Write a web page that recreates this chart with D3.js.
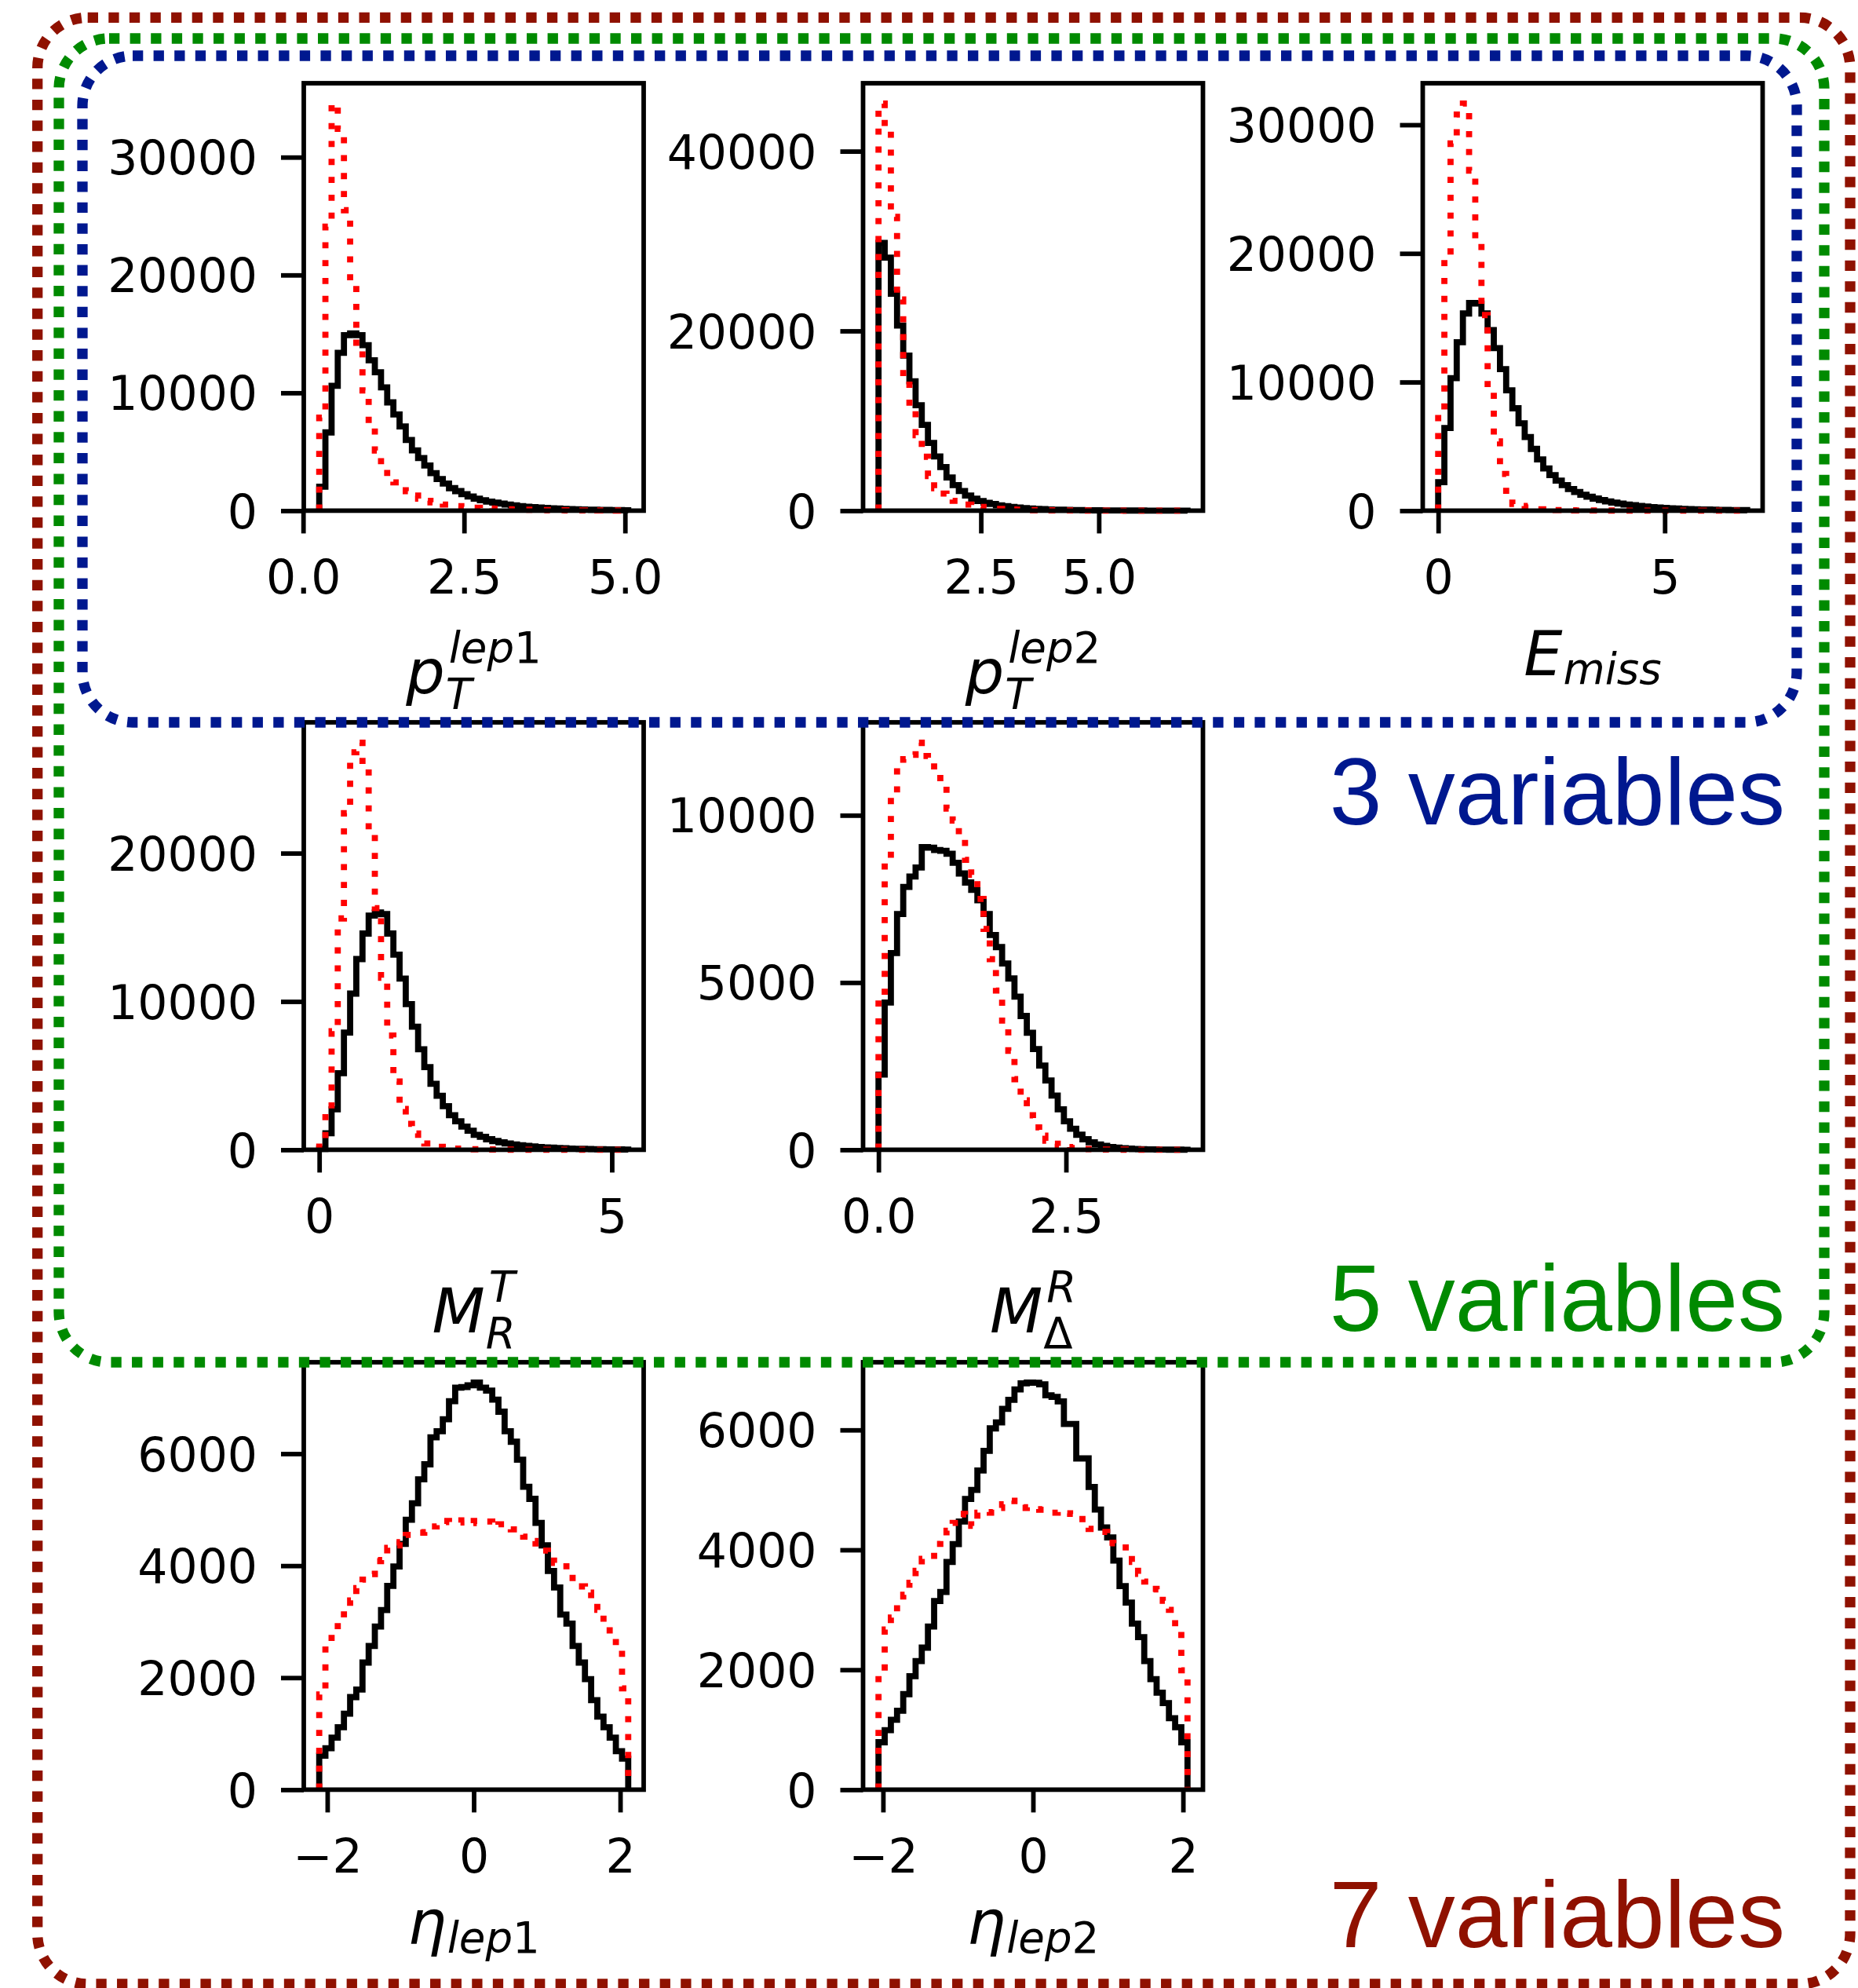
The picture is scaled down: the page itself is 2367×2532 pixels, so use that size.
<!DOCTYPE html>
<html>
<head>
<meta charset="utf-8">
<script src="https://cdn.jsdelivr.net/npm/d3@7"></script>
<style>
  html, body { margin: 0; padding: 0; background: #fff; }
  svg { display: block; }
</style>
</head>
<body>
<svg id="fig" width="2367" height="2532"></svg>
<script>
// ---- Histogram data: 50 equal-width bins per variable over [lo, hi] ----
const ptLep1Range = [0.25, 5.05];
const ptLep1Black = [2040, 6640, 10600, 13400, 14900, 15050, 14900, 14040, 12760, 11740,
  10470, 9190, 8170, 7150, 6000, 5110, 4470, 3830, 3190, 2680,
  2300, 1910, 1660, 1400, 1200, 1020, 890, 770, 690, 600,
  520, 450, 390, 340, 300, 260, 230, 200, 175, 150,
  130, 115, 100, 88, 77, 68, 60, 52, 45, 40];
const ptLep1Red = [7900, 24100, 34550, 32400, 25500, 19100, 13800, 10200, 7400, 5100,
  3800, 2900, 2400, 2000, 1660, 1280, 1020, 840, 710, 610,
  520, 450, 390, 330, 290, 250, 215, 185, 160, 140,
  120, 105, 90, 78, 67, 58, 50, 43, 37, 32,
  28, 24, 21, 18, 15, 13, 11, 10, 9, 8];

const ptLep2Range = [0.33, 6.88];
const ptLep2Black = [29800, 28160, 24130, 20600, 17260, 14400, 11730, 9550, 7540, 6030,
  4860, 3690, 2850, 2180, 1680, 1340, 1070, 870, 740, 600,
  500, 420, 350, 290, 240, 200, 170, 140, 120, 100,
  85, 72, 60, 50, 42, 36, 30, 25, 21, 18,
  15, 13, 11, 9, 8, 7, 6, 5, 4, 3];
const ptLep2Red = [45300, 42600, 32700, 23500, 14900, 11400, 8400, 6000, 3850, 2500,
  1900, 1450, 1100, 870, 680, 540, 420, 330, 260, 205,
  170, 135, 110, 90, 72, 58, 47, 38, 31, 25,
  20, 16, 13, 11, 9, 7, 6, 5, 4, 3,
  3, 2, 2, 2, 1, 1, 1, 1, 1, 1];

const eMissRange = [0, 6.82];
const eMissBlack = [2220, 6430, 10300, 13100, 15330, 16150, 16100, 15330, 14040, 12640,
  11000, 9360, 7960, 6790, 5730, 4800, 3980, 3280, 2760, 2340,
  1990, 1680, 1450, 1240, 1080, 940, 820, 720, 630, 550,
  480, 420, 370, 320, 280, 245, 215, 190, 165, 145,
  128, 112, 98, 86, 76, 67, 59, 52, 46, 40];
const eMissRed = [7490, 19660, 28550, 30800, 31650, 26440, 20800, 15210, 9360, 5380,
  2850, 1080, 520, 360, 250, 160, 110, 80, 60, 45,
  35, 28, 22, 18, 15, 12, 10, 9, 8, 7,
  6, 5, 5, 4, 4, 3, 3, 3, 2, 2,
  2, 2, 2, 1, 1, 1, 1, 1, 1, 1];

const mRTRange = [0, 5.28];
const mRTBlack = [60, 1110, 2730, 5160, 7900, 10530, 12860, 14580, 15790, 16000,
  15890, 14580, 13160, 11540, 9820, 8300, 6780, 5570, 4450, 3640,
  2940, 2330, 1920, 1560, 1280, 1010, 870, 710, 590, 500,
  420, 360, 310, 260, 220, 190, 160, 140, 120, 100,
  85, 72, 60, 50, 42, 35, 30, 25, 20, 15];
const mRTRed = [500, 2200, 8000, 15600, 22700, 26800, 27450, 25800, 21500, 16300,
  11600, 7700, 4600, 2750, 1750, 1100, 650, 420, 290, 200,
  150, 110, 80, 60, 45, 35, 25, 20, 15, 12,
  10, 8, 6, 5, 4, 3, 3, 2, 2, 1,
  1, 1, 1, 1, 0, 0, 0, 0, 0, 0];

const mDeltaRRange = [0, 4.12];
const mDeltaRBlack = [2250, 4400, 5880, 7050, 7860, 8170, 8440, 9050, 9030, 8960,
  8940, 8850, 8580, 8260, 7990, 7770, 7460, 7050, 6420, 6060,
  5570, 5120, 4580, 4000, 3500, 3010, 2520, 2070, 1620, 1210,
  850, 630, 450, 315, 225, 160, 117, 85, 62, 45,
  33, 24, 18, 13, 10, 7, 5, 4, 3, 2];
const mDeltaRRed = [4630, 8620, 10560, 11410, 11680, 11810, 12170, 11770, 11590, 11320,
  11000, 10200, 9840, 9390, 8670, 8220, 7500, 6600, 5700, 4760,
  3860, 2960, 2110, 1480, 1030, 670, 420, 270, 180, 117,
  80, 55, 38, 26, 18, 12, 8, 6, 4, 3,
  2, 2, 1, 1, 1, 1, 0, 0, 0, 0];

const etaLep1Range = [-2.11, 2.11];
const etaLep1Black = [606, 740, 928, 1116, 1357, 1653, 1787, 2270, 2565, 2914,
  3209, 3638, 3987, 4389, 4819, 5114, 5543, 5811, 6294, 6402,
  6616, 6938, 7180, 7190, 7223, 7270, 7180, 7126, 6965, 6750,
  6402, 6214, 5892, 5409, 5194, 4765, 4363, 3906, 3611, 3128,
  2967, 2565, 2270, 1975, 1599, 1304, 1116, 928, 687, 553];
const etaLep1Red = [1700, 2600, 2800, 3000, 3200, 3380, 3600, 3750, 3850, 4080,
  4100, 4320, 4360, 4420, 4550, 4580, 4590, 4600, 4700, 4740,
  4800, 4780, 4770, 4810, 4760, 4800, 4810, 4790, 4700, 4740,
  4720, 4650, 4580, 4520, 4440, 4300, 4270, 4150, 4050, 4050,
  3880, 3650, 3630, 3520, 3400, 3210, 2970, 2780, 2560, 1810];

const etaLep2Range = [-2.06, 2.06];
const etaLep2Black = [791, 992, 1167, 1317, 1593, 1893, 2144, 2369, 2720, 3146,
  3296, 3797, 4097, 4473, 4849, 4999, 5325, 5650, 6026, 6126,
  6351, 6502, 6677, 6777, 6790, 6787, 6762, 6577, 6552, 6477,
  6101, 6101, 5525, 5525, 5049, 4673, 4373, 4207, 3822, 3396,
  3121, 2770, 2545, 2144, 1843, 1618, 1443, 1192, 1042, 791];
const etaLep2Red = [1940, 2670, 2870, 3100, 3250, 3450, 3650, 3850, 3900, 4100,
  4170, 4320, 4450, 4600, 4590, 4400, 4620, 4630, 4620, 4700,
  4760, 4820, 4700, 4700, 4710, 4680, 4670, 4660, 4620, 4640,
  4610, 4600, 4590, 4420, 4350, 4330, 4300, 4120, 4110, 4100,
  3950, 3800, 3600, 3470, 3350, 3340, 3150, 3000, 2650, 1990];

// ---- Tick values ----
const yTicksPtLep1 = [0, 10000, 20000, 30000];
const yTicksPtLep2 = [0, 20000, 40000];
const yTicksEMiss = [0, 10000, 20000, 30000];
const yTicksMRT = [0, 10000, 20000];
const yTicksMDeltaR = [0, 5000, 10000];
const yTicksEta = [0, 2000, 4000, 6000];
const xTicksPtLep1 = [0, 2.5, 5];
const xTicksPtLep2 = [2.5, 5];
const xTicksEMiss = [0, 5];
const xTicksMRT = [0, 5];
const xTicksMDeltaR = [0, 2.5];
const xTicksEta = [-2, 0, 2];

// ---- Axis titles: base symbol with sub/superscript runs [text, italic] ----
const labelPtLep1 = { main: "p", sub: [["T", true]], sup: [["lep", true], ["1", false]] };
const labelPtLep2 = { main: "p", sub: [["T", true]], sup: [["lep", true], ["2", false]] };
const labelEMiss = { main: "E", sub: [["miss", true]], sup: null };
const labelMRT = { main: "M", sub: [["R", true]], sup: [["T", true]] };
const labelMDeltaR = { main: "M", sub: [["\u0394", false]], sup: [["R", true]] };
const labelEtaLep1 = { main: "\u03B7", sub: [["lep", true], ["1", false]], sup: null };
const labelEtaLep2 = { main: "\u03B7", sub: [["lep", true], ["2", false]], sup: null };

// ---- Group captions ----
const groupNames = ["3 variables", "5 variables", "7 variables"];
const groupColors = ["#00188f", "#008a00", "#8f1100"];

// ---- Layout ----
const W = 2367, H = 2532;
const colLeft = [387, 1099.5, 1812.5];
const rowTop = [106, 920, 1735];
const axW = 433, axH = 544.4;
const tickFont = "'DejaVu Sans', 'Noto Sans', sans-serif";
const tickSize = 60;
const labelSize = 78, scriptSize = 54.6;

const svg = d3.select("#fig");
svg.append("rect").attr("width", W).attr("height", H).attr("fill", "#fff");

const panels = [
  { row: 0, col: 0, range: ptLep1Range, black: ptLep1Black, red: ptLep1Red, yTicks: yTicksPtLep1, xTicks: xTicksPtLep1, xFmt: ".1f", label: labelPtLep1 },
  { row: 0, col: 1, range: ptLep2Range, black: ptLep2Black, red: ptLep2Red, yTicks: yTicksPtLep2, xTicks: xTicksPtLep2, xFmt: ".1f", label: labelPtLep2 },
  { row: 0, col: 2, range: eMissRange, black: eMissBlack, red: eMissRed, yTicks: yTicksEMiss, xTicks: xTicksEMiss, xFmt: "d", label: labelEMiss },
  { row: 1, col: 0, range: mRTRange, black: mRTBlack, red: mRTRed, yTicks: yTicksMRT, xTicks: xTicksMRT, xFmt: "d", label: labelMRT },
  { row: 1, col: 1, range: mDeltaRRange, black: mDeltaRBlack, red: mDeltaRRed, yTicks: yTicksMDeltaR, xTicks: xTicksMDeltaR, xFmt: ".1f", label: labelMDeltaR },
  { row: 2, col: 0, range: etaLep1Range, black: etaLep1Black, red: etaLep1Red, yTicks: yTicksEta, xTicks: xTicksEta, xFmt: "d", label: labelEtaLep1 },
  { row: 2, col: 1, range: etaLep2Range, black: etaLep2Black, red: etaLep2Red, yTicks: yTicksEta, xTicks: xTicksEta, xFmt: "d", label: labelEtaLep2 }
];

// step outline of a histogram (open at the bottom, like an unfilled step histogram)
function stepPoints(edges, vals) {
  const pts = [[edges[0], 0]];
  vals.forEach((v, i) => { pts.push([edges[i], v]); pts.push([edges[i + 1], v]); });
  pts.push([edges[edges.length - 1], 0]);
  return pts;
}

function addRuns(textSel, runs) {
  runs.forEach(([t, it]) => {
    textSel.append("tspan").attr("font-style", it ? "italic" : "normal").text(t);
  });
}

// math-style axis title: base symbol, subscript and/or superscript
function drawTitle(g, spec, cx, topY) {
  const main = g.append("text")
    .attr("font-family", tickFont).attr("font-size", labelSize)
    .attr("font-style", "italic").attr("fill", "#000").text(spec.main);
  const mainW = main.node().getComputedTextLength();
  let sub = null, sup = null, subW = 0, supW = 0;
  if (spec.sub) {
    sub = g.append("text").attr("font-family", tickFont).attr("font-size", scriptSize).attr("fill", "#000");
    addRuns(sub, spec.sub);
    subW = sub.node().getComputedTextLength();
  }
  if (spec.sup) {
    sup = g.append("text").attr("font-family", tickFont).attr("font-size", scriptSize).attr("fill", "#000");
    addRuns(sup, spec.sup);
    supW = sup.node().getComputedTextLength();
  }
  const subGap = 1, supGap = 5;
  const total = mainW + Math.max(sub ? subW + subGap : 0, sup ? supW + supGap : 0);
  const x0 = cx - total / 2;
  let baseline, subShift;
  if (sup) {
    // tallest ink is the superscript (shifted up ~0.5 em of the base size)
    baseline = topY + 39 + 0.75 * scriptSize;
    subShift = 20;
  } else {
    const asc = spec.main === "E" ? 0.729 : 0.56;
    baseline = topY + asc * labelSize;
    subShift = 11;
  }
  main.attr("x", x0).attr("y", baseline);
  if (sub) sub.attr("x", x0 + mainW + subGap).attr("y", baseline + subShift);
  if (sup) sup.attr("x", x0 + mainW + supGap).attr("y", baseline - 39);
}

panels.forEach(p => {
  const left = colLeft[p.col], top = rowTop[p.row];
  const right = left + axW, bottom = top + axH;
  const [lo, hi] = p.range, span = hi - lo;
  const x = d3.scaleLinear().domain([lo - 0.05 * span, hi + 0.05 * span]).range([left, right]);
  const ymax = d3.max(p.black.concat(p.red)) * 1.05;
  const y = d3.scaleLinear().domain([0, ymax]).range([bottom, top]);
  const edges = d3.range(p.black.length + 1).map(i => lo + span * i / p.black.length);
  const line = d3.line().x(d => x(d[0])).y(d => y(d[1]));

  const g = svg.append("g");

  g.append("path")
    .attr("d", line(stepPoints(edges, p.black)))
    .attr("fill", "none").attr("stroke", "#000")
    .attr("stroke-width", 7.8).attr("stroke-linejoin", "miter");

  g.append("path")
    .attr("d", line(stepPoints(edges, p.red)))
    .attr("fill", "none").attr("stroke", "#ff0000")
    .attr("stroke-width", 7.8).attr("stroke-linecap", "butt")
    .attr("stroke-linejoin", "miter").attr("stroke-dasharray", "7.8 15");

  // frame
  g.append("rect")
    .attr("x", left).attr("y", top).attr("width", axW).attr("height", axH)
    .attr("fill", "none").attr("stroke", "#000").attr("stroke-width", 5.8);

  // y axis
  const yAxis = d3.axisLeft(y).tickValues(p.yTicks).tickFormat(d3.format("d"))
    .tickSize(29).tickSizeOuter(0).tickPadding(30);
  const gy = g.append("g").attr("transform", `translate(${left},0)`).call(yAxis);
  gy.select(".domain").remove();
  gy.selectAll(".tick line").attr("stroke", "#000").attr("stroke-width", 5.8);
  gy.selectAll(".tick text").attr("fill", "#000").attr("dy", "0.36em");
  gy.attr("font-family", tickFont).attr("font-size", tickSize);

  // x axis
  const xAxis = d3.axisBottom(x).tickValues(p.xTicks).tickFormat(d3.format(p.xFmt))
    .tickSize(29).tickSizeOuter(0).tickPadding(34);
  const gx = g.append("g").attr("transform", `translate(0,${bottom})`).call(xAxis);
  gx.select(".domain").remove();
  gx.selectAll(".tick line").attr("stroke", "#000").attr("stroke-width", 5.8);
  gx.selectAll(".tick text").attr("fill", "#000");
  gx.attr("font-family", tickFont).attr("font-size", tickSize);

  drawTitle(g, p.label, (left + right) / 2, bottom + 153);
});

// ---- Dotted rounded group frames (outer: 7, middle: 5, inner: 3 variables) ----
const frames = [
  { x0: 47.7, y0: 22.3, x1: 2357, y1: 2527, color: groupColors[2] },
  { x0: 75, y0: 49, x1: 2324, y1: 1735, color: groupColors[1] },
  { x0: 105, y0: 71, x1: 2289, y1: 920, color: groupColors[0] }
];
frames.forEach(f => {
  svg.append("rect")
    .attr("x", f.x0).attr("y", f.y0)
    .attr("width", f.x1 - f.x0).attr("height", f.y1 - f.y0)
    .attr("rx", 64).attr("ry", 64)
    .attr("fill", "none").attr("stroke", f.color)
    .attr("stroke-width", 13.3).attr("stroke-dasharray", "13.3 13.3");
});

// ---- Group captions ----
const captionBaselines = [1050, 1695, 2480];
groupNames.forEach((t, i) => {
  svg.append("text")
    .attr("x", 2274).attr("y", captionBaselines[i])
    .attr("text-anchor", "end")
    .attr("font-family", "'Liberation Sans', Arial, sans-serif")
    .attr("font-size", 120)
    .attr("fill", groupColors[i])
    .text(t);
});
</script>
</body>
</html>
